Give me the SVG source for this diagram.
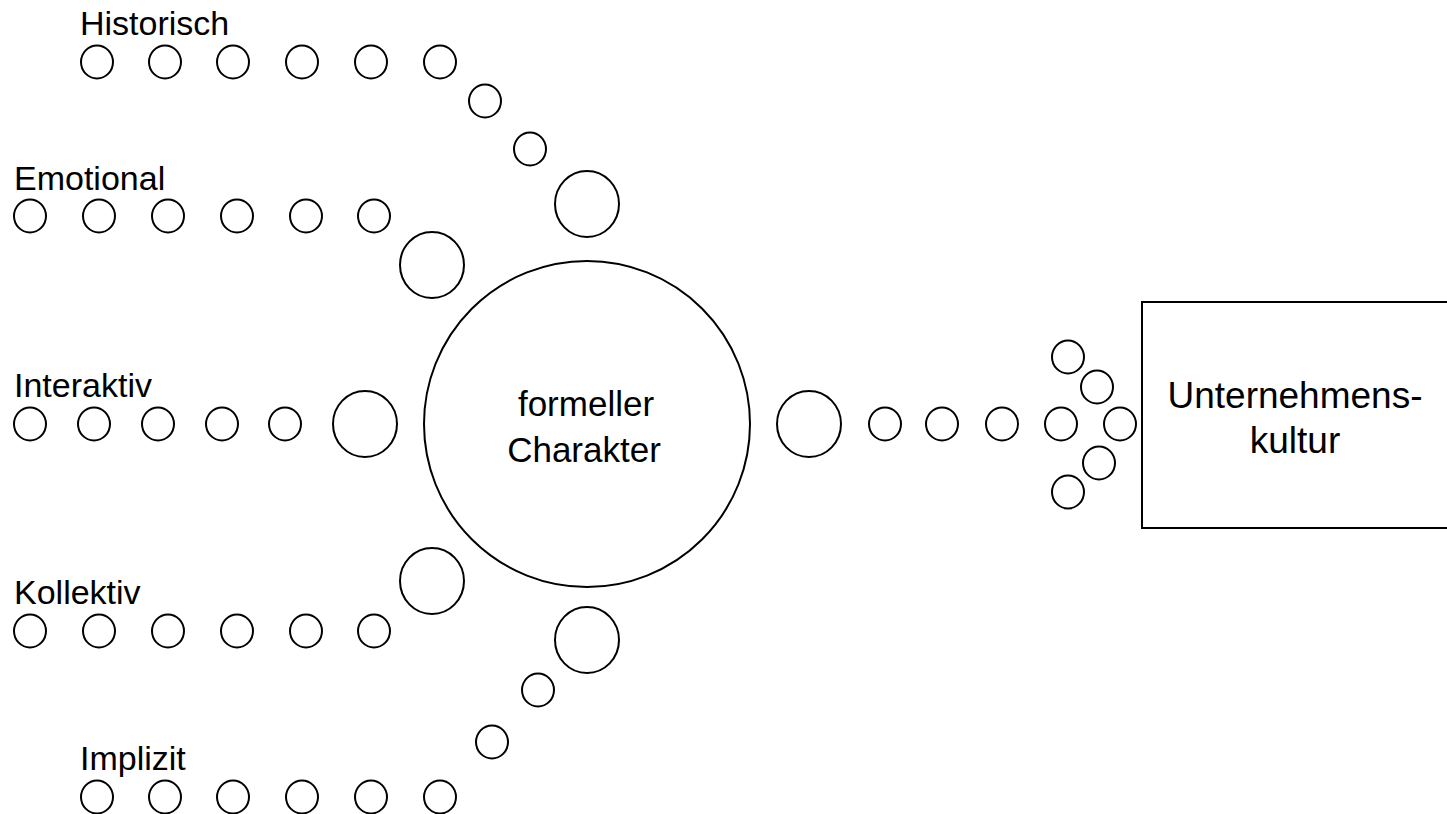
<svg xmlns="http://www.w3.org/2000/svg" width="1447" height="814" viewBox="0 0 1447 814">
<style>
.b{fill:none;stroke:#000;stroke-width:2}
.lbl{font-family:"Liberation Sans","Open Sans",sans-serif;font-size:34px;fill:#000}
.mid{font-family:"Liberation Sans","Open Sans",sans-serif;font-size:35px;fill:#000;text-anchor:middle}
.ar{font-family:"Liberation Sans",Arial,sans-serif;font-size:37px;fill:#000;text-anchor:middle}
</style>
<rect width="1447" height="814" fill="#fff"/>
<g id="node-main">
<circle class="b" cx="587" cy="424" r="163"/>
<text class="mid" x="586" y="416">formeller</text>
<text class="mid" x="584" y="462">Charakter</text>
</g>
<g id="node-kultur">
<rect class="b" x="1142" y="302" width="310" height="226"/>
<text class="ar" x="1295" y="408">Unternehmens-</text>
<text class="ar" x="1295" y="453">kultur</text>
</g>
<g id="label-historisch"><text class="lbl" x="80" y="35">Historisch</text></g>
<g id="label-emotional"><text class="lbl" x="14" y="190">Emotional</text></g>
<g id="label-interaktiv"><text class="lbl" x="14" y="397">Interaktiv</text></g>
<g id="label-kollektiv"><text class="lbl" x="14" y="604">Kollektiv</text></g>
<g id="label-implizit"><text class="lbl" x="80" y="770">Implizit</text></g>
<g id="connectors">
<g id="hist">
<ellipse class="b" cx="97" cy="62" rx="16" ry="16.5"/>
<ellipse class="b" cx="165" cy="62" rx="16" ry="16.5"/>
<ellipse class="b" cx="233" cy="62" rx="16" ry="16.5"/>
<ellipse class="b" cx="302" cy="62" rx="16" ry="16.5"/>
<ellipse class="b" cx="371" cy="62" rx="16" ry="16.5"/>
<ellipse class="b" cx="440" cy="62" rx="16" ry="16.5"/>
<ellipse class="b" cx="485" cy="101" rx="16" ry="16.5"/>
<ellipse class="b" cx="530" cy="149" rx="16" ry="16.5"/>
<ellipse class="b" cx="587" cy="204" rx="32" ry="33"/>
</g>
<g id="emo">
<ellipse class="b" cx="30" cy="216" rx="16" ry="16.5"/>
<ellipse class="b" cx="99" cy="216" rx="16" ry="16.5"/>
<ellipse class="b" cx="168" cy="216" rx="16" ry="16.5"/>
<ellipse class="b" cx="237" cy="216" rx="16" ry="16.5"/>
<ellipse class="b" cx="306" cy="216" rx="16" ry="16.5"/>
<ellipse class="b" cx="374" cy="216" rx="16" ry="16.5"/>
<ellipse class="b" cx="432" cy="265" rx="32" ry="33"/>
</g>
<g id="inter">
<ellipse class="b" cx="30" cy="424" rx="16" ry="16.5"/>
<ellipse class="b" cx="94" cy="424" rx="16" ry="16.5"/>
<ellipse class="b" cx="158" cy="424" rx="16" ry="16.5"/>
<ellipse class="b" cx="222" cy="424" rx="16" ry="16.5"/>
<ellipse class="b" cx="285" cy="424" rx="16" ry="16.5"/>
<ellipse class="b" cx="365" cy="424" rx="32" ry="33"/>
</g>
<g id="koll">
<ellipse class="b" cx="30" cy="631" rx="16" ry="16.5"/>
<ellipse class="b" cx="99" cy="631" rx="16" ry="16.5"/>
<ellipse class="b" cx="168" cy="631" rx="16" ry="16.5"/>
<ellipse class="b" cx="237" cy="631" rx="16" ry="16.5"/>
<ellipse class="b" cx="306" cy="631" rx="16" ry="16.5"/>
<ellipse class="b" cx="374" cy="631" rx="16" ry="16.5"/>
<ellipse class="b" cx="432" cy="581" rx="32" ry="33"/>
</g>
<g id="impl">
<ellipse class="b" cx="97" cy="797" rx="16" ry="16.5"/>
<ellipse class="b" cx="165" cy="797" rx="16" ry="16.5"/>
<ellipse class="b" cx="233" cy="797" rx="16" ry="16.5"/>
<ellipse class="b" cx="302" cy="797" rx="16" ry="16.5"/>
<ellipse class="b" cx="371" cy="797" rx="16" ry="16.5"/>
<ellipse class="b" cx="440" cy="797" rx="16" ry="16.5"/>
<ellipse class="b" cx="492" cy="742" rx="16" ry="16.5"/>
<ellipse class="b" cx="538" cy="690" rx="16" ry="16.5"/>
<ellipse class="b" cx="587" cy="640" rx="32" ry="33"/>
</g>
<g id="out">
<ellipse class="b" cx="809" cy="424" rx="32" ry="33"/>
<ellipse class="b" cx="885" cy="424" rx="16" ry="16.5"/>
<ellipse class="b" cx="942" cy="424" rx="16" ry="16.5"/>
<ellipse class="b" cx="1002" cy="424" rx="16" ry="16.5"/>
<ellipse class="b" cx="1061" cy="424" rx="16" ry="16.5"/>
<ellipse class="b" cx="1120" cy="424" rx="16" ry="16.5"/>
<ellipse class="b" cx="1068" cy="357" rx="16" ry="16.5"/>
<ellipse class="b" cx="1097" cy="387" rx="16" ry="16.5"/>
<ellipse class="b" cx="1099" cy="463" rx="16" ry="16.5"/>
<ellipse class="b" cx="1068" cy="492" rx="16" ry="16.5"/>
</g>
</g>
</svg>
